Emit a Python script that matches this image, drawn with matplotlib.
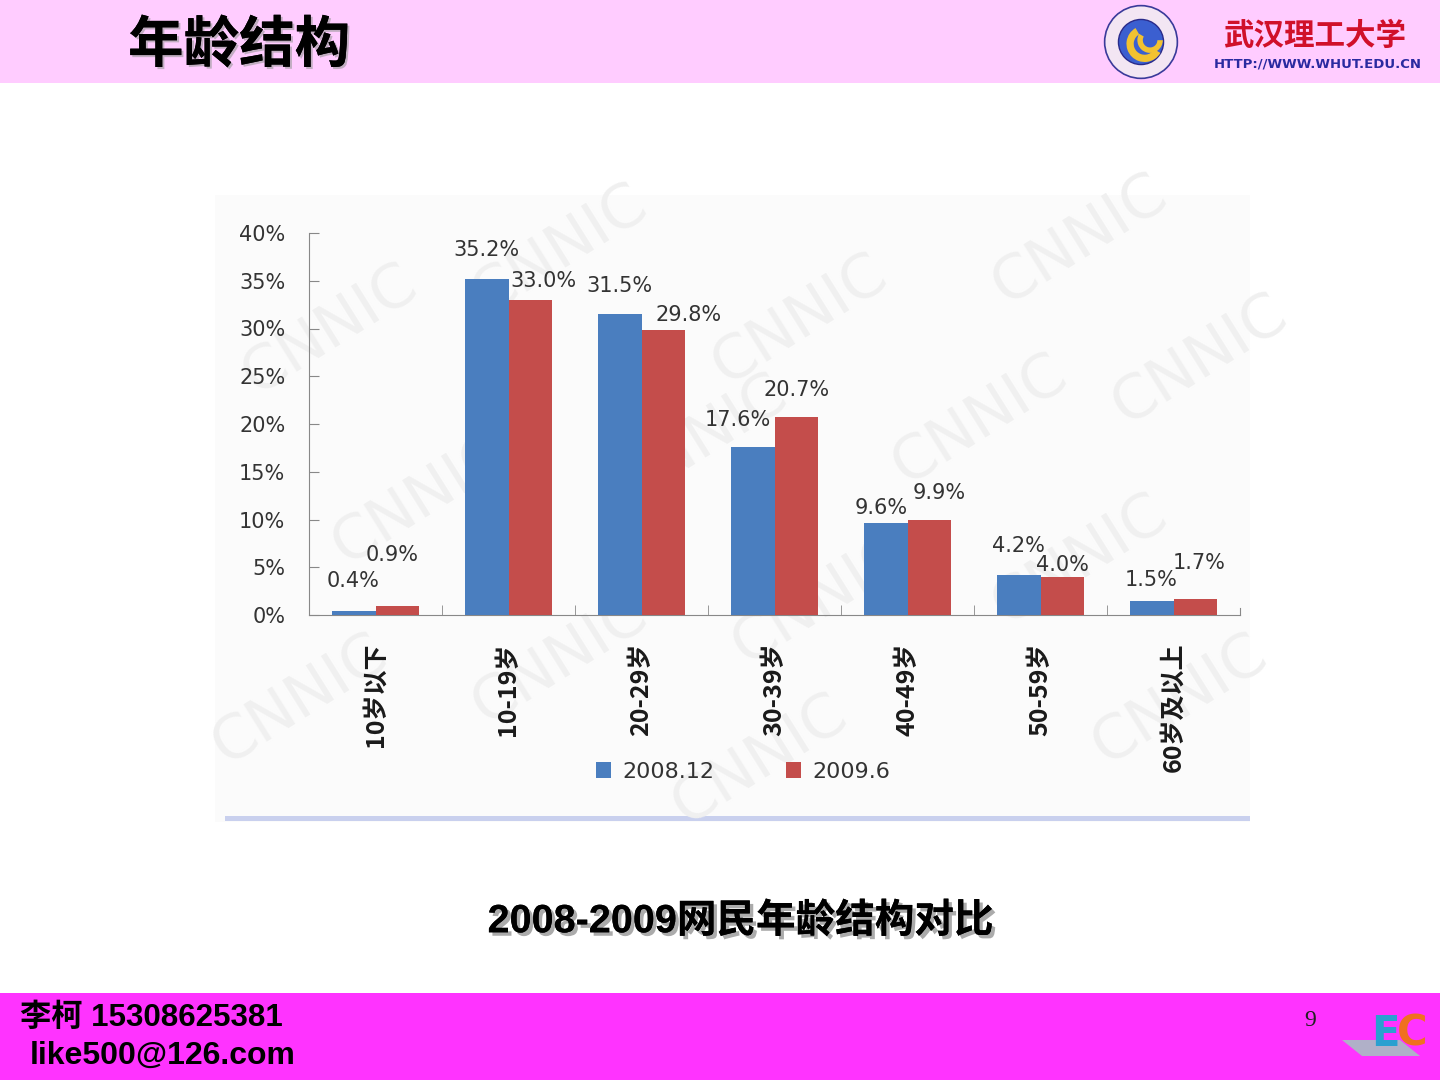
import matplotlib
matplotlib.use("Agg")
import matplotlib.pyplot as plt
import matplotlib.patches as mpatches
import matplotlib.patheffects as pe
import numpy as np

# ---- data ----
categories = ["10岁以下", "10-19岁", "20-29岁", "30-39岁", "40-49岁", "50-59岁", "60岁及以上"]
series_names = ["2008.12", "2009.6"]
values_2008 = [0.4, 35.2, 31.5, 17.6, 9.6, 4.2, 1.5]
values_2009 = [0.9, 33.0, 29.8, 20.7, 9.9, 4.0, 1.7]
y_ticks = [0, 5, 10, 15, 20, 25, 30, 35, 40]

# label offsets (layout only, in % units) mimicking Excel placement
dy_2008 = [3.2, 3.0, 2.9, 2.8, 1.6, 3.0, 2.2]
dy_2009 = [5.4, 2.0, 1.6, 2.9, 2.9, 1.2, 3.7]
dx_2008 = [0.0, 0.0, 0.0, -0.11, -0.03, 0.0, 0.0]
dx_2009 = [-0.04, 0.10, 0.19, 0.0, 0.07, 0.0, 0.03]

CJK = ["Noto Sans CJK SC", "DejaVu Sans"]
W, H = 1440, 1080
fig = plt.figure(figsize=(14.4, 10.8), dpi=100)
fig.patch.set_facecolor("white")

def fx(px):
    return px / W

def fy(py):
    return 1 - py / H

# header / footer bands
fig.add_artist(mpatches.Rectangle((0, fy(83)), 1, 83 / H, transform=fig.transFigure,
                                  facecolor="#FFCCFF", edgecolor="none", zorder=-5))
fig.add_artist(mpatches.Rectangle((0, 0), 1, (H - 993) / H, transform=fig.transFigure,
                                  facecolor="#FF33FF", edgecolor="none", zorder=-5))

# chart panel background
fig.add_artist(mpatches.Rectangle((fx(215), fy(822)), fx(1250 - 215), (822 - 195) / H,
                                  transform=fig.transFigure, facecolor="#fbfbfb",
                                  edgecolor="none", zorder=-5))
fig.add_artist(mpatches.Rectangle((fx(225), fy(821)), fx(1250 - 225), 5 / H,
                                  transform=fig.transFigure, facecolor="#c9d0ee",
                                  edgecolor="none", zorder=-4))

# faint watermarks
for (wx, wy) in [(330, 330), (560, 250), (800, 320), (1080, 240), (420, 500),
                 (700, 440), (980, 420), (1200, 360), (300, 700), (560, 660),
                 (820, 600), (1080, 560), (1180, 700), (760, 760)]:
    fig.text(fx(wx), fy(wy), "CNNIC", fontsize=44, color="#f0f0f0", rotation=32,
             ha="center", va="center", zorder=-3)

# title
fig.text(fx(128), fy(46), "年龄结构", family=CJK, fontsize=40, fontweight="black",
         color="black", ha="left", va="center",
         path_effects=[pe.withSimplePatchShadow(offset=(1.5, -1.5), shadow_rgbFace="#999999", alpha=0.6),
                       pe.Normal()])

# logo (approximation)
ax_logo = fig.add_axes([fx(1085), fy(82), fx(112), 80 / H])
ax_logo.set_xlim(-1.1, 1.1)
ax_logo.set_ylim(-1.1, 1.1)
ax_logo.set_aspect("equal")
ax_logo.axis("off")
ax_logo.add_patch(mpatches.Circle((0, 0), 1.0, facecolor="#f3e6f3", edgecolor="#3a3a9a", lw=1.2))
ax_logo.add_patch(mpatches.Circle((0, 0), 0.62, facecolor="#3b5fd0", edgecolor="#2a2a8a", lw=1))
ax_logo.add_patch(mpatches.Wedge((0.1, -0.05), 0.5, 120, 330, width=0.2, facecolor="#f2c230"))
ax_logo.add_patch(mpatches.Wedge((0.25, 0.05), 0.35, 150, 360, width=0.15, facecolor="#f2c230"))
fig.text(fx(1315), fy(36), "武汉理工大学", family=CJK, fontsize=22, fontweight="bold",
         color="#d0102a", ha="center", va="center", style="italic")
fig.text(fx(1318), fy(64), "HTTP://WWW.WHUT.EDU.CN", fontsize=9.5, fontweight="bold",
         color="#2a2aa0", ha="center", va="center")

# ---- main chart ----
ax = fig.add_axes([fx(309), fy(615), fx(1240 - 309), (615 - 233) / H])
ax.patch.set_alpha(0)
x = np.arange(len(categories))
bw = 0.33
c_blue = "#4a7ebf"
c_red = "#c44d4b"
ax.bar(x - bw / 2, values_2008, bw, color=c_blue, label=series_names[0], zorder=3)
ax.bar(x + bw / 2, values_2009, bw, color=c_red, label=series_names[1], zorder=3)

ax.set_xlim(-0.5, len(categories) - 0.5)
ax.set_ylim(0, 40)
ax.set_yticks(y_ticks)
ax.set_yticklabels([f"{v}%" for v in y_ticks], fontsize=15, color="#333333")
ax.tick_params(axis="y", direction="in", length=7, color="#888888", pad=17)
ax.set_xticks(np.arange(len(categories) - 1) + 0.5, minor=True)
ax.set_xticks(x)
ax.set_xticklabels(categories, rotation=90, family=CJK, fontsize=18, color="#1a1a1a",
                   va="top", fontweight="bold")
ax.tick_params(axis="x", which="major", length=0, pad=20)
ax.tick_params(axis="x", which="minor", direction="in", length=7, color="#888888")
for s in ["top", "right"]:
    ax.spines[s].set_visible(False)
ax.spines["left"].set_color("#888888")
ax.spines["bottom"].set_color("#888888")
# right-end tick
ax.plot([len(categories) - 0.5] * 2, [0, 0.7], color="#888888", lw=0.8, clip_on=False)

for i in range(len(categories)):
    ax.text(x[i] - bw / 2 + dx_2008[i], values_2008[i] + dy_2008[i], f"{values_2008[i]:.1f}%",
            ha="center", va="center", fontsize=15, color="#333333", zorder=4)
    ax.text(x[i] + bw / 2 + dx_2009[i], values_2009[i] + dy_2009[i], f"{values_2009[i]:.1f}%",
            ha="center", va="center", fontsize=15, color="#333333", zorder=4)

fig.legend(loc="center", bbox_to_anchor=(fx(743), fy(772)), ncol=2, frameon=False,
           fontsize=16, handlelength=0.7, handleheight=0.7, handletextpad=0.5,
           columnspacing=3.2, labelcolor="#333333")

# caption with shadow
cap = "2008-2009网民年龄结构对比"
fig.text(fx(741), fy(921), cap, family=["Liberation Sans", "Noto Sans CJK SC"], fontsize=28.5,
         fontweight="bold", color="black", ha="center", va="center",
         path_effects=[pe.withSimplePatchShadow(offset=(2.5, -2.5), shadow_rgbFace="#888888", alpha=0.7),
                       pe.Normal()])

# footer
fig.text(fx(20), fy(1018), "李柯 15308625381", family=["Liberation Sans", "Noto Sans CJK SC"],
         fontsize=22.5, fontweight="bold", color="black", ha="left", va="center")
fig.text(fx(30), fy(1056), "like500@126.com", family=["Liberation Sans", "DejaVu Sans"],
         fontsize=23, fontweight="bold", color="black", ha="left", va="center")
fig.text(fx(1310), fy(1020), "9", family=["Liberation Serif"], fontsize=17,
         color="#222222", ha="center", va="center")
fig.add_artist(mpatches.Polygon([[fx(1342), fy(1040)], [fx(1400), fy(1040)], [fx(1420), fy(1056)],
                                 [fx(1362), fy(1056)]], closed=True, transform=fig.transFigure,
                                facecolor="#b0b0c8", edgecolor="none"))
fig.text(fx(1385), fy(1034), "E", fontsize=30, fontweight="bold", color="#2aa0d0",
         ha="center", va="center")
fig.text(fx(1412), fy(1034), "C", fontsize=30, fontweight="bold", color="#f07020",
         ha="center", va="center")

fig.savefig("out.png", dpi=100)
